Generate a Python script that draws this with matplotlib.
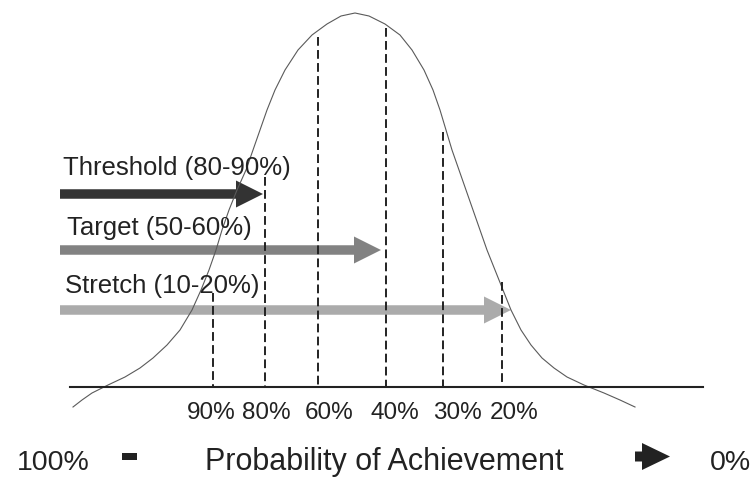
import matplotlib
matplotlib.use('Agg')
import matplotlib.pyplot as plt
from matplotlib.patches import FancyArrow, Rectangle

plt.rcParams['font.family'] = 'Liberation Sans'

# Bell curve outline (pixel coords, y downwards)
# left flank from the peak down, right flank from the peak down
curve_y = [13, 16, 24, 35, 50, 70, 90, 110, 130, 150, 170, 190, 210, 230, 250,
           270, 290, 310, 330, 345, 358, 368, 377, 385, 393, 400, 407]
left_x = [355, 341, 327, 312, 298, 285, 275, 267, 260, 253, 246, 237, 229, 222,
          216, 209, 201, 192, 180, 167, 153, 140, 125, 108, 92, 82, 73]
right_x = [355, 369, 385, 400, 412, 424, 433, 440, 446, 452, 459, 466, 473, 480,
           487, 495, 503, 511, 521, 531, 542, 554, 567, 584, 604, 620, 635]

# Probability markers
pct_labels = ['90%', '80%', '60%', '40%', '30%', '20%']
line_x = [213, 265, 318, 386, 443, 502]
line_top = [293, 177, 37, 28, 132, 282]
pct_label_x = [211, 266, 329, 395, 457, 514]

# Goal arrows
arrow_labels = ['Threshold (80-90%)', 'Target (50-60%)', 'Stretch (10-20%)']
arrow_y = [194, 250, 310]
arrow_tip = [263, 381, 511]
arrow_colors = ['#333333', '#828282', '#ababab']
arrow_text_x = [63, 67, 65]
arrow_text_y = [175, 235, 293]

baseline_y = 387

fig = plt.figure(figsize=(7.53, 4.78), dpi=100)
ax = fig.add_axes([0, 0, 1, 1])
ax.set_xlim(0, 753)
ax.set_ylim(478, 0)
ax.axis('off')

# curve and baseline
xs = left_x[::-1] + right_x[1:]
ys = curve_y[::-1] + curve_y[1:]
ax.plot(xs, ys, color='#5a5a5a', lw=0.8)
ax.plot([70, 703], [baseline_y, baseline_y], color='#222222', lw=1.5)

# dashed lines + percent labels
for x, top, lab, lx in zip(line_x, line_top, pct_labels, pct_label_x):
    ax.plot([x, x], [top, baseline_y], color='#222222', lw=1.4, dashes=(4.5, 2.2))
    ax.text(lx, 419, lab, fontsize=17.5, ha='center', va='baseline', color='#222222')

# arrows with labels
for lab, y, tip, c, tx, ty in zip(arrow_labels, arrow_y, arrow_tip, arrow_colors,
                                  arrow_text_x, arrow_text_y):
    ax.add_patch(FancyArrow(60, y, tip - 60, 0, width=9.5, head_width=27,
                            head_length=27, length_includes_head=True,
                            color=c, lw=0))
    ax.text(tx, ty, lab, fontsize=18.5, ha='left', va='baseline', color='#222222')

# bottom axis caption
ax.text(17, 470, '100%', fontsize=20.5, ha='left', va='baseline', color='#222222')
ax.add_patch(Rectangle((122, 453), 15, 7, color='#222222', lw=0))
ax.text(205, 470, 'Probability of Achievement', fontsize=22, ha='left',
        va='baseline', color='#222222')
ax.add_patch(FancyArrow(635, 456.5, 35, 0, width=10, head_width=27,
                        head_length=28, length_includes_head=True,
                        color='#222222', lw=0))
ax.text(710, 470, '0%', fontsize=20.5, ha='left', va='baseline', color='#222222')

fig.savefig('out.png', dpi=100)
